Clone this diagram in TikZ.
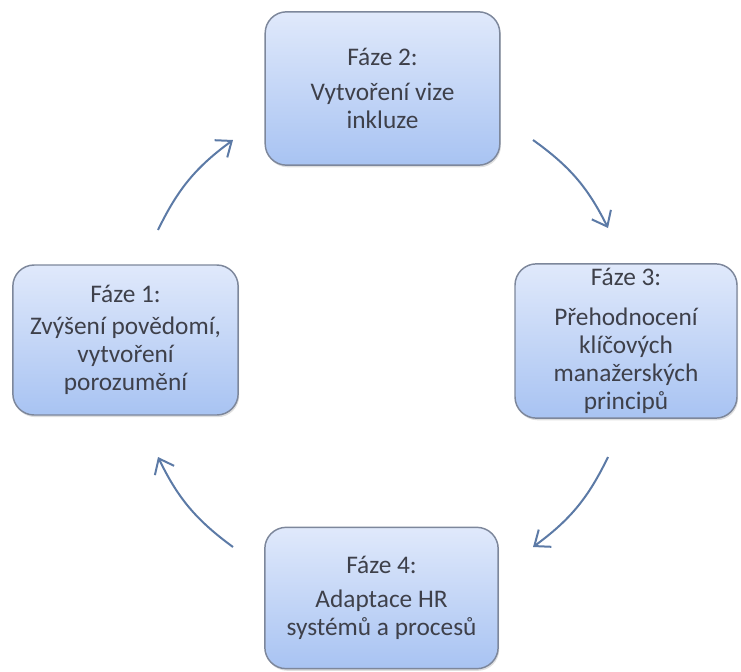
\documentclass[tikz,border=0pt]{standalone}
\usepackage{fontspec}
\setmainfont{Carlito}
\usepackage{tikz}
\usetikzlibrary{shadows, arrows.meta}

\definecolor{phasetop}{RGB}{224,233,251}
\definecolor{phasebot}{RGB}{168,195,242}
\definecolor{phaseline}{RGB}{125,135,155}
\definecolor{phasetext}{RGB}{62,64,74}
\definecolor{cyclearrow}{RGB}{92,122,166}

\tikzset{
    phase/.style={draw=phaseline, line width=1.1pt, rounded corners=16pt,
        top color=phasetop, bottom color=phasebot, align=center,
        text=phasetext, font=\fontsize{19}{21}\selectfont,
        drop shadow={opacity=0.25, shadow xshift=0.8pt, shadow yshift=-1.6pt}},
    cycle/.style={draw=cyclearrow, line width=1.5pt,
        -{Straight Barb[length=10pt, width=16pt, line width=1.5pt]}}
}

\begin{document}
\begin{tikzpicture}[x=0.75pt, y=-0.75pt]
    \useasboundingbox (0,0) rectangle (741,671);

    % Phase boxes
    \node[phase, minimum width=176pt, minimum height=115pt] (F2) at (382.5, 88.5)
        {Fáze 2:\\[5pt] Vytvoření vize\\ inkluze};
    \node[phase, minimum width=166.5pt, minimum height=114pt] (F3) at (626, 341)
        {Fáze 3:\\[9pt] Přehodnocení\\ klíčových\\ manažerských\\ principů};
    \node[phase, minimum width=169pt, minimum height=112.5pt] (F1) at (125.5, 340)
        {Fáze 1:\\[3pt] Zvýšení povědomí,\\ vytvoření\\ porozumění};
    \node[phase, minimum width=175pt, minimum height=106pt] (F4) at (381.5, 598)
        {Fáze 4:\\[5pt] Adaptace HR\\ systémů a procesů};

    % Arrow ends
    \coordinate (A1s) at (158, 230);   % F1 -> F2
    \coordinate (A1e) at (233, 140);
    \coordinate (A2s) at (533, 140);   % F2 -> F3
    \coordinate (A2e) at (608, 228);
    \coordinate (A3s) at (608, 457);   % F3 -> F4
    \coordinate (A3e) at (533, 547);
    \coordinate (A4s) at (233, 547);   % F4 -> F1
    \coordinate (A4e) at (158, 457);

    % Cycle arrows
    \draw[cycle] (A1s) to[bend left=14] (A1e);
    \draw[cycle] (A2s) to[bend left=14] (A2e);
    \draw[cycle] (A3s) to[bend left=14] (A3e);
    \draw[cycle] (A4s) to[bend left=14] (A4e);

\end{tikzpicture}
\end{document}
